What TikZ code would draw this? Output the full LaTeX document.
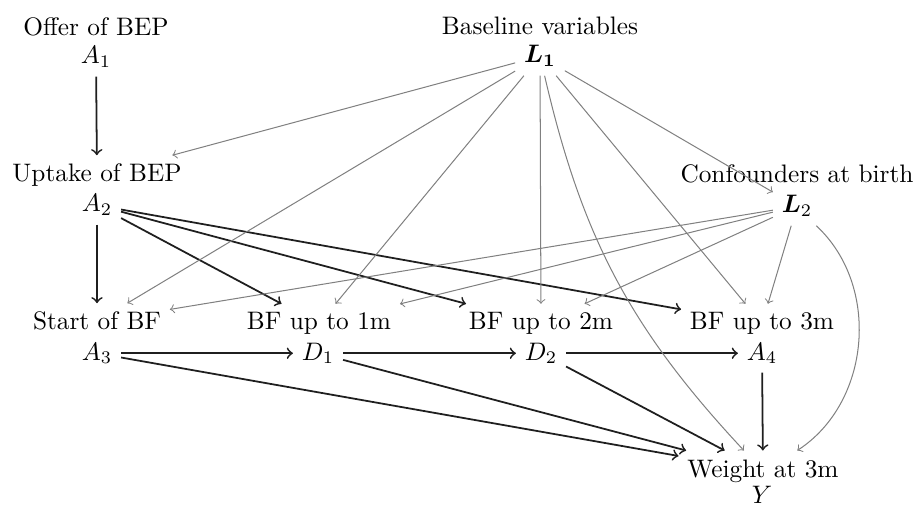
\documentclass[tikz,border=0pt]{standalone}
\usepackage{bm}
\begin{document}
\begin{tikzpicture}[x=0.3953pt, y=-0.3953pt,
  lbl/.style={anchor=base, inner sep=0.3333em},
  var/.style={anchor=base, inner sep=0.3333em},
  blk/.style={->, draw=black!88, line width=0.7pt},
  gry/.style={->, draw=black!50, line width=0.4pt}]
\useasboundingbox (0,0) rectangle (920,506);
% text labels
\node[lbl] (a1t) at (96,36) {Offer of BEP};
\node[lbl] (a2t) at (97,182) {Uptake of BEP};
\node[lbl] (a3t) at (97,330) {Start of BF};
\node[lbl] (d1t) at (319,330) {BF up to 1m};
\node[lbl] (d2t) at (541,330) {BF up to 2m};
\node[lbl] (a4t) at (762,330) {BF up to 3m};
\node[lbl] (yt)  at (763,477) {Weight at 3m};
\node[lbl] (l1t) at (540,35) {Baseline variables};
\node[lbl] (l2t) at (797,183) {Confounders at birth};
% variables
\node[var] (a1) at (96,64) {$A_1$};
\node[var] (a2) at (97,212) {$A_2$};
\node[var] (a3) at (97,360) {$A_3$};
\node[var] (d1) at (318,360) {$D_1$};
\node[var] (d2) at (541,360) {$D_2$};
\node[var] (a4) at (762,360) {$A_4$};
\node[var] (y)  at (762,503) {$Y$};
\node[var] (l1) at (540,63) {$\bm{L_1}$};
\node[var] (l2) at (797,213) {$\bm{L}_2$};
% black edges
\draw[blk] (a1) -- (a2t);
\draw[blk] (a2) -- (a3t);
\draw[blk] (a2) -- (d1t);
\draw[blk] (a2) -- (d2t);
\draw[blk] (a2) -- (a4t);
\draw[blk] (a3) -- (d1);
\draw[blk] (d1) -- (d2);
\draw[blk] (d2) -- (a4);
\draw[blk] (a3) -- (yt);
\draw[blk] (d1) -- (yt);
\draw[blk] (d2) -- (yt);
\draw[blk] (a4) -- (yt);
% gray edges
\draw[gry] (l1) -- (a2t);
\draw[gry] (l1) -- (a3t);
\draw[gry] (l1) -- (d1t);
\draw[gry] (l1) -- (d2t);
\draw[gry] (l1) to[bend right=15] (yt);
\draw[gry] (l1) -- (a4t);
\draw[gry] (l1) -- (l2);
\draw[gry] (l2) -- (a3t);
\draw[gry] (l2) -- (d1t);
\draw[gry] (l2) -- (d2t);
\draw[gry] (l2) -- (a4t);
\draw[gry] (l2) to[bend left=52] (yt);
\end{tikzpicture}
\end{document}
